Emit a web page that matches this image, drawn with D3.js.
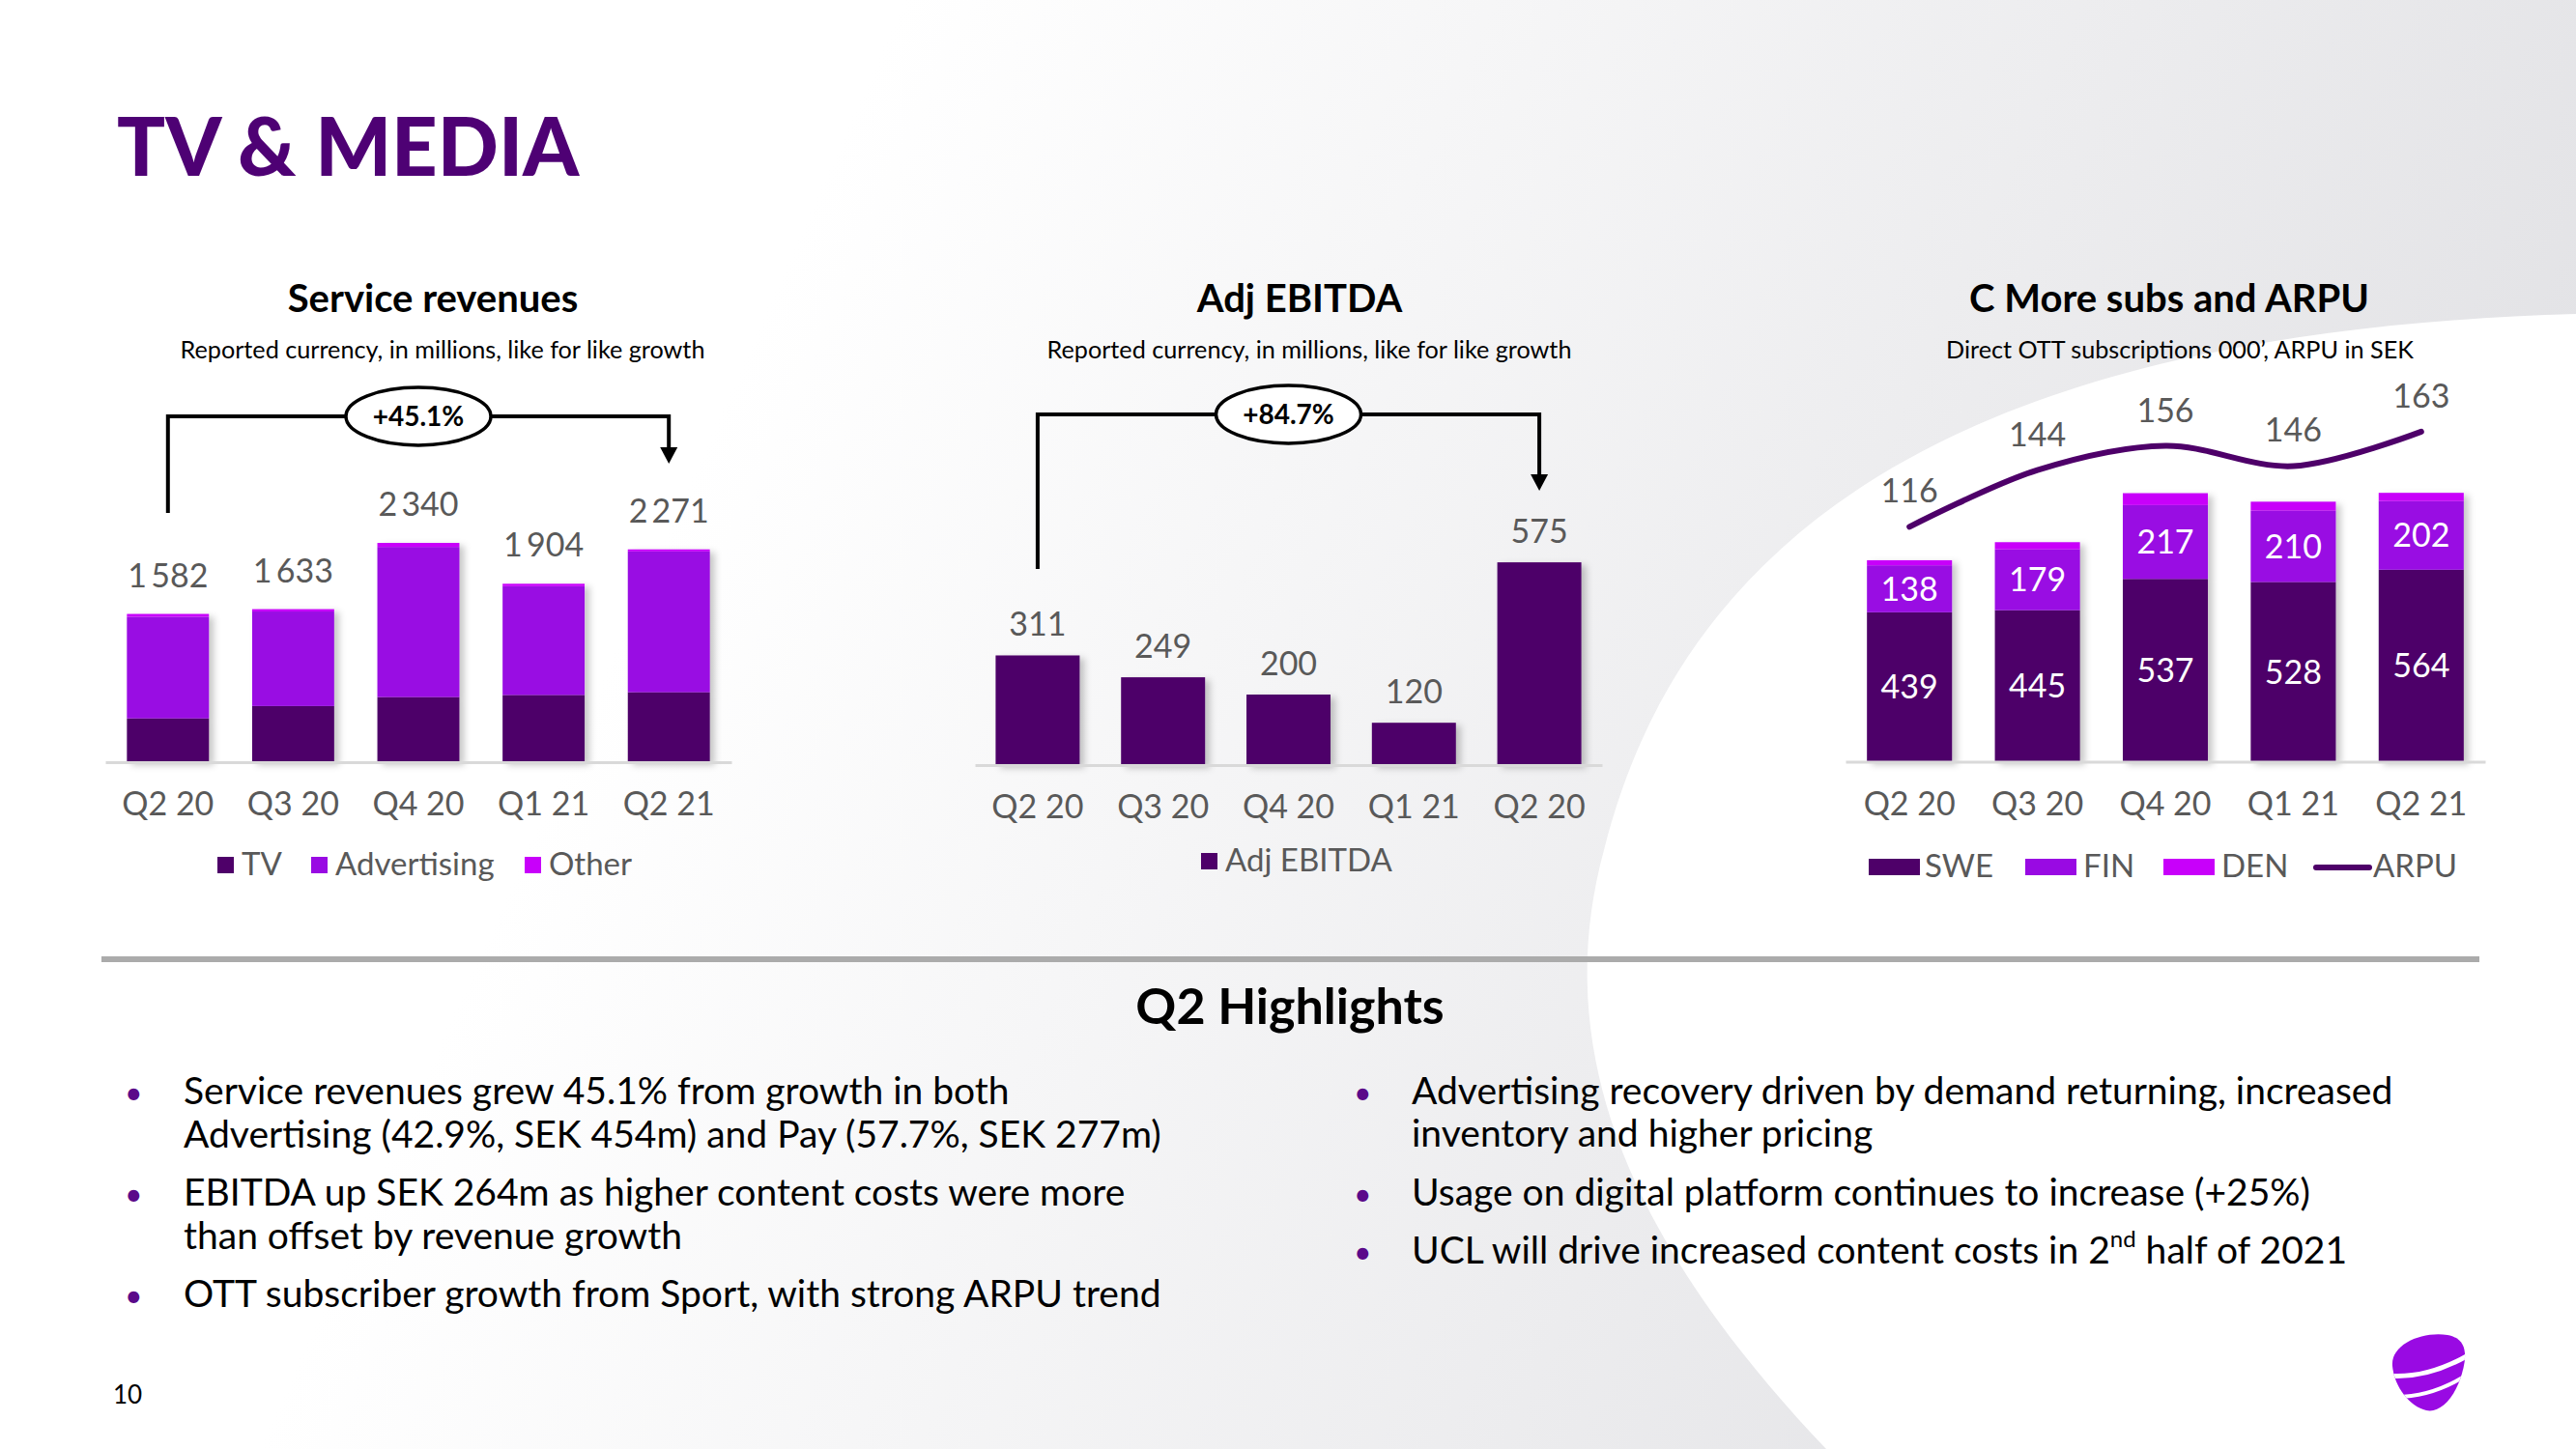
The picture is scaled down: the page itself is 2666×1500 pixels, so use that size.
<!DOCTYPE html>
<html><head><meta charset="utf-8">
<script src="https://cdn.jsdelivr.net/npm/d3@7"></script>
<style>html,body{margin:0;padding:0;background:#fff;} svg{display:block;font-family:Lato,"Open Sans",sans-serif;}</style>
</head><body><svg id="c" width="2666" height="1500"></svg>
<script>
// ---------- DATA ----------
const quarters = ["Q2 20","Q3 20","Q4 20","Q1 21","Q2 21"];
const ebitdaQuarters = ["Q2 20","Q3 20","Q4 20","Q1 21","Q2 20"];
const revKeys = ["TV","Advertising","Other"];
const revTV = [468,599,695,717,747];
const revAdvertising = [1084,1009,1602,1161,1502];
const revOther = [30,25,43,26,22];
const revTotals = [1582,1633,2340,1904,2271];
const ebitdaKeys = ["Adj EBITDA"];
const ebitda = [311,249,200,120,575];
const subsKeys = ["SWE","FIN","DEN"];
const subsSWE = [439,445,537,528,564];
const subsFIN = [138,179,217,210,202];
const subsDEN = [15,21,35,26,24];
const arpu = [116,144,156,146,163];
const revGrowth = "+45.1%";
const ebitdaGrowth = "+84.7%";
const bulletsLeft = [
  ["Service revenues grew 45.1% from growth in both","Advertising (42.9%, SEK 454m) and Pay (57.7%, SEK 277m)"],
  ["EBITDA up SEK 264m as higher content costs were more","than offset by revenue growth"],
  ["OTT subscriber growth from Sport, with strong ARPU trend"]
];
const bulletsRight = [
  ["Advertising recovery driven by demand returning, increased","inventory and higher pricing"],
  ["Usage on digital platform continues to increase (+25%)"],
  ["UCL will drive increased content costs in 2|nd| half of 2021"]
];

// ---------- STYLE ----------
const C_DARK = "#4E0069", C_MID = "#990AE3", C_LIGHT = "#C800FA";
const GREY_TXT = "#595959";
const fmt = d3.formatLocale({decimal:",", thousands:"\u2009", grouping:[3], currency:["",""]}).format(",d");

const svg = d3.select("#c");
const defs = svg.append("defs");
const lg = defs.append("linearGradient").attr("id","bg").attr("x1","0").attr("y1","0").attr("x2","1").attr("y2","0.25");
lg.append("stop").attr("offset","0.33").attr("stop-color","#ffffff");
lg.append("stop").attr("offset","1").attr("stop-color","#e3e3e6");
svg.append("rect").attr("width",2666).attr("height",1500).attr("fill","url(#bg)");
svg.append("path").attr("d","M2666,325 C2150,340 1760,480 1660,880 C1600,1100 1700,1300 1890,1500 L2666,1500 Z").attr("fill","#ffffff");

const f = defs.append("filter").attr("id","sh").attr("x","-20%").attr("y","-10%").attr("width","150%").attr("height","130%");
f.append("feDropShadow").attr("dx",5).attr("dy",3).attr("stdDeviation",3.5).attr("flood-color","#000").attr("flood-opacity",0.22);

// Title
svg.append("text").attr("x",121).attr("y",182).attr("fill","#4E0174")
  .attr("font-size",83).attr("font-weight",900).text("TV & MEDIA");

function chartTitle(cx, title, cxs, sub){
  svg.append("text").attr("x",cx).attr("y",323).attr("text-anchor","middle").attr("font-size",40)
    .attr("font-weight",700).attr("fill","#000").text(title);
  svg.append("text").attr("x",cxs).attr("y",371).attr("text-anchor","middle").attr("font-size",25.2)
    .attr("fill","#000").text(sub);
}
function xAxis(x, base, labels){
  const ax = svg.append("g").attr("transform",`translate(0,${base})`)
    .call(d3.axisBottom(x).tickSize(0).tickSizeOuter(0).tickPadding(31).tickFormat(i=>labels[i]));
  ax.select(".domain").attr("stroke","#d9d9d9").attr("stroke-width",3);
  ax.selectAll("text").attr("font-size",34).attr("fill",GREY_TXT).attr("font-family","Lato");
}
function bracket(x0, x1, yTop, yLeft, yTip, label){
  const cx = (x0+x1)/2, rx = 75, ry = 30;
  const g = svg.append("g").attr("stroke","#000").attr("stroke-width",4).attr("fill","none");
  g.append("path").attr("d",`M${x0},${yLeft} V${yTop} H${cx-rx}`);
  g.append("path").attr("d",`M${cx+rx},${yTop} H${x1} V${yTip-16}`);
  g.append("ellipse").attr("cx",cx).attr("cy",yTop).attr("rx",rx).attr("ry",ry).attr("fill","#fff").attr("stroke-width",3.5);
  svg.append("path").attr("d",`M${x1-9},${yTip-17} L${x1+9},${yTip-17} L${x1},${yTip} Z`).attr("fill","#000");
  svg.append("text").attr("x",cx).attr("y",yTop+10).attr("text-anchor","middle").attr("font-size",28)
    .attr("font-weight",700).attr("fill","#000").text(label);
}

// ---------- Chart 1: Service revenues ----------
chartTitle(448, "Service revenues", 458, "Reported currency, in millions, like for like growth");
const x1 = d3.scaleBand().domain(d3.range(quarters.length)).range([109,757]).paddingInner(0.345).paddingOuter(0.1725);
const base1 = 789;
const y1 = d3.scaleLinear().domain([0,2500]).range([base1, base1-2500*0.097]);
const rows1 = quarters.map((q,i)=>({i, TV:revTV[i], Advertising:revAdvertising[i], Other:revOther[i]}));
const st1 = d3.stack().keys(revKeys)(rows1);
const col1 = d3.scaleOrdinal().domain(revKeys).range([C_DARK,C_MID,C_LIGHT]);
const g1 = svg.append("g").attr("filter","url(#sh)");
st1.forEach(layer=>{
  g1.selectAll(null).data(layer).join("rect")
    .attr("x",d=>x1(d.data.i)).attr("width",x1.bandwidth())
    .attr("y",d=>y1(d[1])).attr("height",d=>y1(d[0])-y1(d[1])).attr("fill",col1(layer.key));
});
xAxis(x1, base1, quarters);
svg.selectAll(null).data(revTotals).join("text")
  .attr("x",(d,i)=>x1(i)+x1.bandwidth()/2).attr("y",d=>y1(d)-28).attr("text-anchor","middle")
  .attr("font-size",34).attr("fill",GREY_TXT).text(d=>fmt(d));
bracket(x1(0)+x1.bandwidth()/2, x1(4)+x1.bandwidth()/2, 431, 531, 480, revGrowth);
// legend 1
[[225,250],[322,347],[543,568]].forEach((p,k)=>{
  svg.append("rect").attr("x",p[0]).attr("y",887).attr("width",17).attr("height",17).attr("fill",col1(revKeys[k]));
  svg.append("text").attr("x",p[1]).attr("y",906).attr("font-size",33).attr("fill",GREY_TXT).text(revKeys[k]);
});

// ---------- Chart 2: Adj EBITDA ----------
chartTitle(1345, "Adj EBITDA", 1355, "Reported currency, in millions, like for like growth");
const x2 = d3.scaleBand().domain(d3.range(ebitda.length)).range([1009,1658]).paddingInner(0.33).paddingOuter(0.165);
const base2 = 792;
const y2 = d3.scaleLinear().domain([0,700]).range([base2, base2-700*0.365]);
svg.append("g").attr("filter","url(#sh)").selectAll("rect").data(ebitda).join("rect")
  .attr("x",(d,i)=>x2(i)).attr("width",x2.bandwidth()).attr("y",d=>y2(d)).attr("height",d=>base2-y2(d)).attr("fill",C_DARK);
xAxis(x2, base2, ebitdaQuarters);
svg.selectAll(null).data(ebitda).join("text")
  .attr("x",(d,i)=>x2(i)+x2.bandwidth()/2).attr("y",d=>y2(d)-20).attr("text-anchor","middle")
  .attr("font-size",34).attr("fill",GREY_TXT).text(d=>fmt(d));
bracket(x2(0)+x2.bandwidth()/2, x2(4)+x2.bandwidth()/2, 429, 589, 508, ebitdaGrowth);
svg.append("rect").attr("x",1243).attr("y",883).attr("width",17).attr("height",17).attr("fill",C_DARK);
svg.append("text").attr("x",1268).attr("y",902).attr("font-size",33).attr("fill",GREY_TXT).text(ebitdaKeys[0]);

// ---------- Chart 3: C More subs and ARPU ----------
chartTitle(2245, "C More subs and ARPU", 2256, "Direct OTT subscriptions 000\u2019, ARPU in SEK");
const x3 = d3.scaleBand().domain(d3.range(quarters.length)).range([1910,2572]).paddingInner(0.335).paddingOuter(0.1675);
const base3 = 788.5;
const yTop3 = base3 - 800*0.3523;
const y3 = d3.scaleLinear().domain([0,800]).range([base3, yTop3]);
const yA = d3.scaleLinear().domain([0, 800*0.3523/2.096]).range([base3, yTop3]);
const rows3 = quarters.map((q,i)=>({i, SWE:subsSWE[i], FIN:subsFIN[i], DEN:subsDEN[i]}));
const st3 = d3.stack().keys(subsKeys)(rows3);
const col3 = d3.scaleOrdinal().domain(subsKeys).range([C_DARK,C_MID,C_LIGHT]);
const g3 = svg.append("g").attr("filter","url(#sh)");
st3.forEach(layer=>{
  g3.selectAll(null).data(layer).join("rect")
    .attr("x",d=>x3(d.data.i)).attr("width",x3.bandwidth())
    .attr("y",d=>y3(d[1])).attr("height",d=>y3(d[0])-y3(d[1])).attr("fill",col3(layer.key));
});
xAxis(x3, base3, quarters);
st3.slice(0,2).forEach(layer=>{
  svg.selectAll(null).data(layer).join("text")
    .attr("x",d=>x3(d.data.i)+x3.bandwidth()/2).attr("y",d=>(y3(d[0])+y3(d[1]))/2)
    .attr("dy","0.36em").attr("text-anchor","middle").attr("font-size",34).attr("fill","#fff")
    .text(d=>fmt(d[1]-d[0]));
});
const line = d3.line().x((d,i)=>x3(i)+x3.bandwidth()/2).y(d=>yA(d)).curve(d3.curveCatmullRom.alpha(0.5));
svg.append("path").datum(arpu).attr("d",line).attr("fill","none").attr("stroke",C_DARK)
  .attr("stroke-width",6).attr("stroke-linecap","round");
svg.selectAll(null).data(arpu).join("text")
  .attr("x",(d,i)=>x3(i)+x3.bandwidth()/2).attr("y",d=>yA(d)-25).attr("text-anchor","middle")
  .attr("font-size",34).attr("fill",GREY_TXT).text(d=>fmt(d));
// legend 3
[[1934,1992],[2096,2156],[2239,2299]].forEach((p,k)=>{
  svg.append("rect").attr("x",p[0]).attr("y",889).attr("width",53).attr("height",17).attr("fill",col3(subsKeys[k]));
  svg.append("text").attr("x",p[1]).attr("y",908).attr("font-size",33).attr("fill",GREY_TXT).text(subsKeys[k]);
});
svg.append("line").attr("x1",2397).attr("x2",2452).attr("y1",898).attr("y2",898).attr("stroke",C_DARK)
  .attr("stroke-width",6).attr("stroke-linecap","round");
svg.append("text").attr("x",2456).attr("y",908).attr("font-size",33).attr("fill",GREY_TXT).text("ARPU");

// ---------- Highlights ----------
svg.append("line").attr("x1",105).attr("x2",2566).attr("y1",993).attr("y2",993).attr("stroke","#ababab").attr("stroke-width",6);
svg.append("text").attr("x",1335).attr("y",1060).attr("text-anchor","middle").attr("font-size",52)
  .attr("font-weight",700).attr("fill","#000").text("Q2 Highlights");

function bullets(list, xb, xt, ys){
  let li = 0;
  list.forEach(item=>{
    svg.append("text").attr("x",xb).attr("y",ys[li]).attr("font-size",32).attr("fill","#5a0a8a").text("\u2022");
    item.forEach(lineTxt=>{
      const t = svg.append("text").attr("x",xt).attr("y",ys[li]).attr("font-size",39).attr("fill","#000");
      const parts = lineTxt.split("|");
      parts.forEach((p,k)=>{
        const ts = t.append("tspan").text(p);
        if(k===1) ts.attr("font-size",24).attr("baseline-shift","70%");
        if(k===2) ts.attr("baseline-shift","0%");
      });
      li++;
    });
  });
}
bullets(bulletsLeft, 129, 190, [1143,1188,1248,1293,1353]);
bullets(bulletsRight, 1401, 1461, [1143,1187,1248,1308]);

svg.append("text").attr("x",117).attr("y",1453).attr("font-size",26).attr("fill","#000").text("10");

// Logo
const lg2 = svg.append("g");
defs.append("clipPath").attr("id","lc").append("path")
  .attr("d","M2476,1414 C2474,1392 2506,1378 2533,1382 C2556,1386 2553,1408 2546,1428 C2538,1450 2524,1463 2511,1460 C2494,1456 2478,1436 2476,1414 Z");
lg2.append("path").attr("d","M2476,1414 C2474,1392 2506,1378 2533,1382 C2556,1386 2553,1408 2546,1428 C2538,1450 2524,1463 2511,1460 C2494,1456 2478,1436 2476,1414 Z").attr("fill",C_MID);
const lgc = lg2.append("g").attr("clip-path","url(#lc)").attr("fill","none").attr("stroke","#fff");
lgc.append("path").attr("d","M2470,1424 Q2512,1428 2556,1402").attr("stroke-width",5);
lgc.append("path").attr("d","M2480,1446 Q2516,1446 2552,1424").attr("stroke-width",4);
</script></body></html>
